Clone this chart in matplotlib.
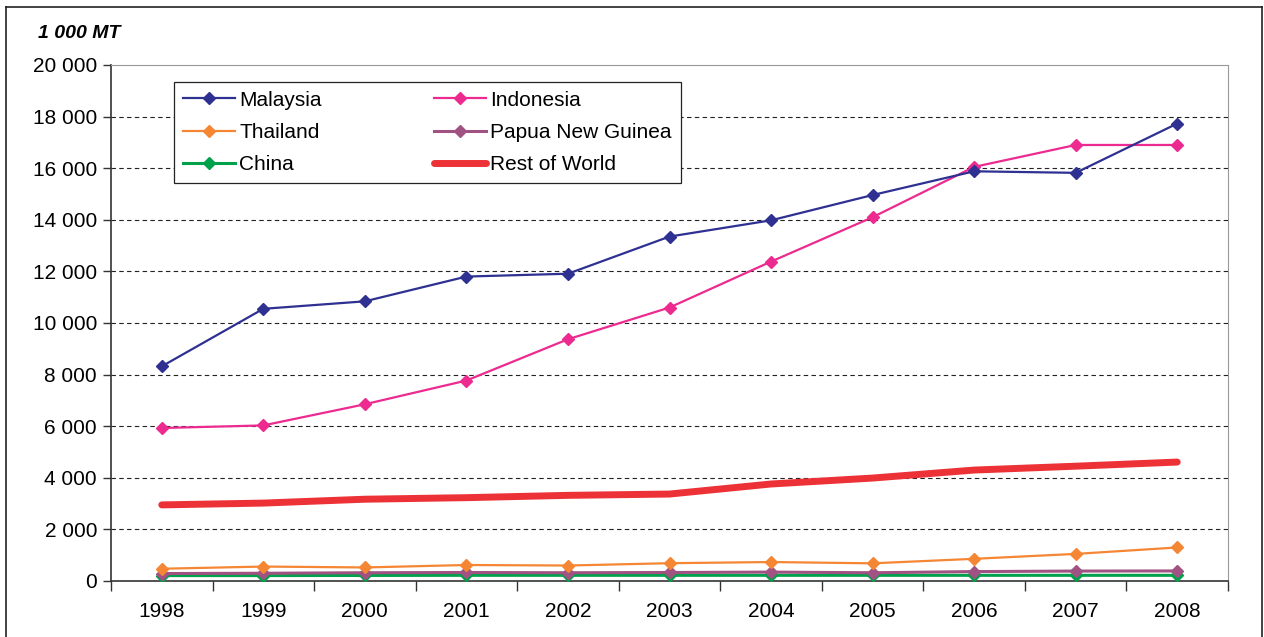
import matplotlib
matplotlib.use("Agg")
import matplotlib.pyplot as plt
from matplotlib.lines import Line2D
from matplotlib.ticker import FixedLocator, FuncFormatter

plt.rcParams['font.family'] = ['Liberation Sans', 'DejaVu Sans']

years = [1998, 1999, 2000, 2001, 2002, 2003, 2004, 2005, 2006, 2007, 2008]
malaysia = [8320, 10550, 10840, 11800, 11910, 13350, 13980, 14960, 15880, 15820, 17730]
indonesia = [5930, 6030, 6850, 7770, 9370, 10600, 12380, 14100, 16050, 16900, 16900]
thailand = [475, 560, 525, 620, 600, 690, 735, 685, 860, 1050, 1300]
png = [290, 300, 320, 330, 320, 330, 345, 320, 365, 385, 390]
china = [210, 210, 215, 220, 220, 220, 220, 220, 220, 220, 220]
rest = [2950, 3020, 3170, 3230, 3320, 3370, 3760, 3990, 4300, 4450, 4610]

fig = plt.figure(figsize=(12.64, 6.37), dpi=100)
ax = fig.add_axes([111/1264, 1-581/637, (1228-111)/1264, (581-65)/637])

ms = 6.5
ax.plot(years, china, color='#00A14B', lw=2.2, marker='D', ms=ms, label='China', zorder=3)
ax.plot(years, png, color='#A05282', lw=2.2, marker='D', ms=ms, label='Papua New Guinea', zorder=3)
ax.plot(years, thailand, color='#F58634', lw=1.6, marker='D', ms=ms, label='Thailand', zorder=3)
ax.plot(years, rest, color='#ED3237', lw=5, solid_capstyle='round', label='Rest of World', zorder=3)
ax.plot(years, indonesia, color='#EC2A8F', lw=1.6, marker='D', ms=ms, label='Indonesia', zorder=3)
ax.plot(years, malaysia, color='#2E3192', lw=1.6, marker='D', ms=ms, label='Malaysia', zorder=4)

ax.set_xlim(1997.5, 2008.5)
ax.set_ylim(0, 20000)
ax.set_xticks(years)
ax.set_xticklabels([str(y) for y in years])
ax.xaxis.set_minor_locator(FixedLocator([y - 0.5 for y in years] + [2008.5]))
ax.tick_params(axis='x', which='major', length=0, pad=15, labelsize=15)
ax.tick_params(axis='x', which='minor', length=7, width=1, direction='out', color='#333333')
ax.set_yticks(range(0, 20001, 2000))
ax.yaxis.set_major_formatter(FuncFormatter(lambda v, p: f"{int(v):,}".replace(",", " ")))
ax.tick_params(axis='y', length=6, width=1, direction='out', labelsize=15, pad=4, color='#333333')

for v in range(2000, 20000, 2000):
    ax.axhline(v, color='#222222', lw=0.8, ls=(0, (4, 3)), zorder=1)

ax.spines['top'].set_color('#999999')
ax.spines['right'].set_color('#999999')
ax.spines['left'].set_color('#333333')
ax.spines['bottom'].set_color('#333333')
ax.spines['left'].set_linewidth(1.2)
ax.spines['bottom'].set_linewidth(1.2)

h, l = ax.get_legend_handles_labels()
order = ['Malaysia', 'Thailand', 'China', 'Indonesia', 'Papua New Guinea', 'Rest of World']
hd = {lab: hh for hh, lab in zip(h, l)}
leg = ax.legend([hd[o] for o in order], order, ncol=2, loc='upper left',
                bbox_to_anchor=((174-111)/1117, (581-82)/516), fontsize=15,
                frameon=True, fancybox=False, edgecolor='#222222', framealpha=1,
                handlelength=2.5, columnspacing=5.4, labelspacing=0.64, borderpad=0.42,
                handletextpad=0.2, borderaxespad=0)
leg.get_frame().set_linewidth(0.9)

fig.text(38/1264, 1-33/637, '1 000 MT', fontsize=14, fontweight='bold', fontstyle='italic',
         va='center', ha='left')

# outer frame
fig.add_artist(Line2D([6/1264, 6/1264], [0, 1-7/637], color='#222222', lw=1.2))
fig.add_artist(Line2D([1262/1264, 1262/1264], [0, 1-7/637], color='#222222', lw=1.2))
fig.add_artist(Line2D([6/1264, 1262/1264], [1-7/637, 1-7/637], color='#222222', lw=1.2))

fig.savefig('out.png', dpi=100)
